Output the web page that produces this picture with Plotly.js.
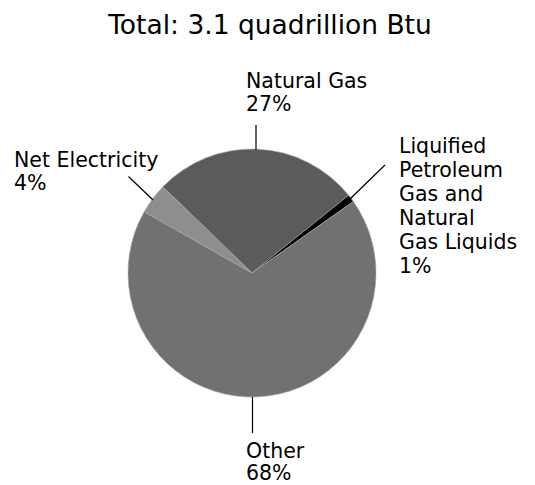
<!DOCTYPE html>
<html>
<head>
<meta charset="utf-8">
<script src="https://cdn.plot.ly/plotly-3.0.1.min.js"></script>
<style>html,body{margin:0;padding:0;background:#fff;}#chart{width:535px;height:485px;}</style>
</head>
<body>
<div id="chart"></div>
<script>
// ---- data ----
var categories = ["Natural Gas", "Liquified Petroleum Gas and Natural Gas Liquids", "Other", "Net Electricity"];
var values = [27, 1, 68, 4];
var labelLines = [["Natural Gas"], ["Liquified", "Petroleum", "Gas and", "Natural", "Gas Liquids"], ["Other"], ["Net Electricity"]];
var titleText = "Total: 3.1 quadrillion Btu";

// ---- styles / positions ----
var W = 535, H = 485;
var colors = ["#5b5b5b", "#000000", "#717171", "#8e8e8e"];
var cx = 252, cy = 273, R = 124;
var FONT = "DejaVu Sans";
var FS = 20.5;
// label positions: left x, first baseline, line step
var labelPos = [
  {x: 245, b: 88, step: 23},
  {x: 398, b: 153, step: 24},
  {x: 245, b: 458, step: 22.5},
  {x: 13, b: 167, step: 23}
];
var leaders = [
  [[256, 125], [256, 150]],
  [[350, 199], [385, 165]],
  [[252.5, 397], [252.5, 433]],
  [[128.5, 176.5], [153, 200]]
];
function px(x){return x / W;}
function py(y){return 1 - y / H;}

var annotations = [];
for (var i = 0; i < categories.length; i++) {
  var lines = labelLines[i].concat([values[i] + "%"]);
  for (var j = 0; j < lines.length; j++) {
    var base = labelPos[i].b + j * labelPos[i].step;
    annotations.push({
      text: lines[j], xref: "paper", yref: "paper",
      x: px(labelPos[i].x), y: py(base - 0.346 * FS),
      xanchor: "left", yanchor: "middle", showarrow: false,
      borderpad: 0,
      font: {family: FONT, size: FS, color: "#000"}
    });
  }
}
var shapes = leaders.map(function(l){
  return {type: "line", xref: "paper", yref: "paper",
    x0: px(l[0][0]), y0: py(l[0][1]), x1: px(l[1][0]), y1: py(l[1][1]),
    line: {color: "#000", width: 1.2}};
});

var trace = {
  type: "pie",
  labels: categories,
  values: values,
  sort: false,
  direction: "clockwise",
  rotation: -46,
  marker: {colors: colors, line: {color: "#a8a8a8", width: 0.6}},
  textinfo: "none",
  hoverinfo: "label+percent",
  showlegend: false,
  domain: {x: [px(cx - R), px(cx + R)], y: [py(cy + R), py(cy - R)]}
};

var layout = {
  width: W, height: H,
  margin: {l: 0, r: 0, t: 0, b: 0},
  paper_bgcolor: "#fff",
  showlegend: false,
  title: {text: titleText, x: 270 / W, xanchor: "center", xref: "paper",
    y: py(34 - 0.346 * 26.5), yref: "container", yanchor: "middle",
    font: {family: FONT, size: 26.5, color: "#000"}},
  annotations: annotations,
  shapes: shapes
};
Plotly.newPlot("chart", [trace], layout, {displayModeBar: false, staticPlot: true});
</script>
</body>
</html>
